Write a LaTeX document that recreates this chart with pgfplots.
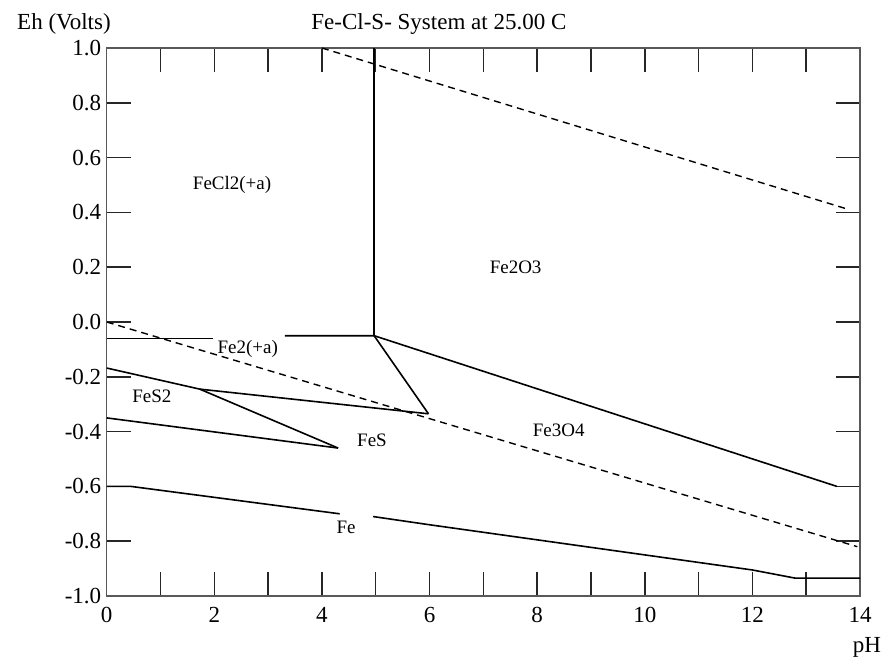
\documentclass[border=0pt]{standalone}
\usepackage{pgfplots}
\pgfplotsset{compat=1.18}
\usepackage{fontspec}
\setmainfont{Liberation Serif}

\tikzset{
  bnd/.style={black, solid, mark=none, line width=1.6pt},
  h2o/.style={black, mark=none, dash pattern=on 7pt off 5pt, line width=1.4pt},
}

\begin{document}
\begin{tikzpicture}
\useasboundingbox (-106.7pt,-61pt) rectangle (777.3pt,596pt);
\begin{axis}[
  at={(0,0)}, anchor=south west,
  scale only axis, width=753.3pt, height=548pt,
  xmin=0, xmax=14, ymin=-1, ymax=1,
  xtick={1,2,...,13},
  xticklabels={,2,,4,,6,,8,,10,,12,},
  ytick={-0.8,-0.6,-0.4,-0.2,0,0.2,0.4,0.6,0.8},
  yticklabels={-0.8,-0.6,-0.4,-0.2,0.0,0.2,0.4,0.6,0.8},
  extra x ticks={0,14}, extra x tick labels={0,14},
  extra y ticks={-1,1}, extra y tick labels={-1.0,1.0},
  extra tick style={major tick length=0pt},
  xtick pos=both, ytick pos=both,
  tick align=inside, major tick length=24pt,
  tick style={line width=1.5pt, black!85},
  axis line style={line width=1.1pt, black!65},
  ticklabel style={font=\fontsize{23}{23}\selectfont},
  xticklabel style={yshift=-8pt},
  yticklabel style={xshift=-2pt},
  clip=false,
]
% water stability lines
\addplot[h2o] coordinates {(4.0,1.0) (13.8,0.41)};
\addplot[h2o] coordinates {(0,0) (13.95,-0.82)};
% Fe2O3 / FeCl2 / Fe2+ / Fe3O4
\addplot[bnd] coordinates {(4.97,1.0) (4.97,-0.05)};
\addplot[bnd] coordinates {(3.31,-0.05) (4.97,-0.05) (13.57,-0.60)};
\addplot[bnd, line width=0.9pt] coordinates {(0,-0.06) (1.98,-0.06)};
\addplot[bnd] coordinates {(4.97,-0.05) (5.98,-0.335)};
% FeS2 / FeS
\addplot[bnd] coordinates {(0,-0.168) (1.73,-0.245) (5.98,-0.335)};
\addplot[bnd] coordinates {(1.73,-0.245) (4.30,-0.46)};
\addplot[bnd] coordinates {(0,-0.35) (4.30,-0.46)};
% Fe
\addplot[bnd] coordinates {(0,-0.60) (0.45,-0.60) (4.33,-0.70)};
\addplot[bnd] coordinates {(4.95,-0.71) (6,-0.74) (8,-0.795) (10,-0.85) (12,-0.905) (12.8,-0.935) (14,-0.935)};

\begin{scope}[every node/.style={font=\fontsize{19}{19}\selectfont}]
\node at (axis cs:2.33,0.5) {FeCl2(+a)};
\node at (axis cs:7.6,0.2) {Fe2O3};
\node at (axis cs:2.62,-0.097) {Fe2(+a)};
\node at (axis cs:8.4,-0.395) {Fe3O4};
\node at (axis cs:0.84,-0.27) {FeS2};
\node at (axis cs:4.93,-0.43) {FeS};
\node at (axis cs:4.45,-0.75) {Fe};
\end{scope}

\node[anchor=base, font=\fontsize{23}{23}\selectfont, yshift=18pt] at (rel axis cs:0.441,1) {Fe-Cl-S- System at 25.00 C};
\node[anchor=base west, font=\fontsize{23}{23}\selectfont, xshift=-93pt, yshift=18pt] at (rel axis cs:0,1) {Eh (Volts)};
\node[font=\fontsize{23}{23}\selectfont, xshift=7pt, yshift=-51pt] at (rel axis cs:1,0) {pH};
\end{axis}
\end{tikzpicture}
\end{document}
